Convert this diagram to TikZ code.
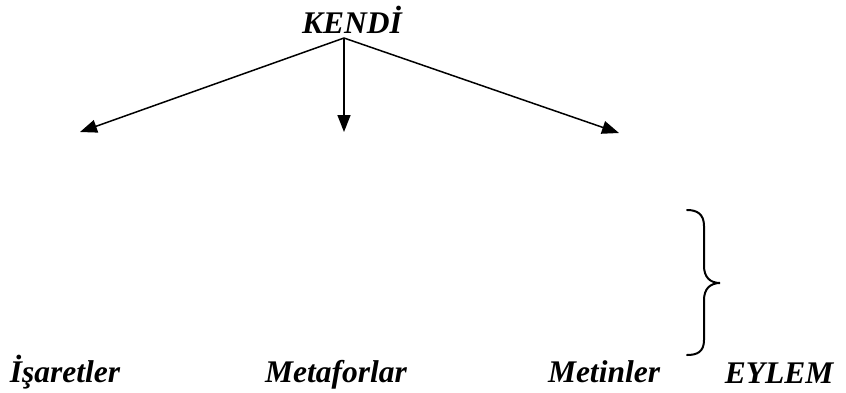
\documentclass[tikz,border=0pt]{standalone}
\usepackage{fontspec}
\setmainfont{Liberation Serif}[BoldItalicFont={Liberation Serif Bold Italic}]
\usetikzlibrary{arrows.meta}
\begin{document}
\begin{tikzpicture}[x=1pt,y=-1pt,
  lbl/.style={font=\fontsize{31.5}{36}\selectfont\bfseries\itshape, inner sep=0pt, anchor=base},
  arr/.style={line width=1.5pt, -{Triangle[length=17pt,width=13pt]}},
  brc/.style={line width=2pt, line cap=round}]
\useasboundingbox (0,0) rectangle (846,392);
\node[lbl] (kendi) at (352,33) {KENDİ};
\coordinate (top) at (344,38);
\coordinate (l) at (80,132);
\coordinate (m) at (344,132);
\coordinate (r) at (619,133);
\draw[arr] (top) -- (l);
\draw[arr] (top) -- (m);
\draw[arr] (top) -- (r);
\node[lbl] (isaretler) at (65,382) {İşaretler};
\node[lbl] (metaforlar) at (336,382) {Metaforlar};
\node[lbl] (metinler) at (604,382) {Metinler};
\node[lbl] (eylem) at (779,383) {EYLEM};
\coordinate (bt) at (687,210);
\coordinate (bm) at (720,283);
\coordinate (bb) at (687,355);
\draw[brc] (bt) .. controls (697,210) and (704,214) .. (704,226)
  -- (704,266) .. controls (704,277) and (710,283) .. (bm)
  .. controls (710,283) and (704,289) .. (704,300)
  -- (704,340) .. controls (704,352) and (697,355) .. (bb);
\end{tikzpicture}
\end{document}
